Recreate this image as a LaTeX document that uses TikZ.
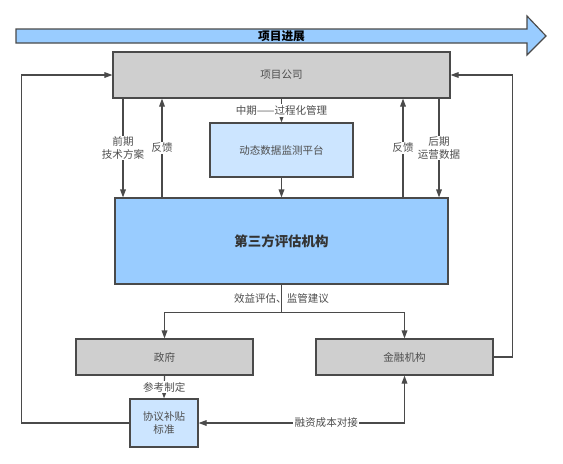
\documentclass[tikz,border=0pt]{standalone}
\usepackage{fontspec}
\setmainfont{Noto Sans CJK SC}
\usetikzlibrary{arrows.meta}

\definecolor{boxgray}{HTML}{CFCFCF}
\definecolor{paleblue}{HTML}{CCE5FF}
\definecolor{midblue}{HTML}{99CCFF}
\definecolor{linegray}{HTML}{4A4A4A}
\definecolor{textgray}{HTML}{4D4D4D}

\tikzset{
  box/.style={draw=linegray, line width=1pt, text=textgray, inner sep=0pt,
    font=\fontsize{9}{11}\selectfont},
  graybox/.style={box, fill=boxgray},
  bluebox/.style={box, fill=paleblue, align=center},
  conn/.style={draw=linegray, line width=1pt, -{Triangle[length=2.4mm,width=1.7mm]}},
  biconn/.style={conn, {Triangle[length=2.4mm,width=1.7mm]}-{Triangle[length=2.4mm,width=1.7mm]}},
  lbl/.style={fill=white, text=textgray, inner sep=1pt, align=center,
    font=\fontsize{9}{10.5}\selectfont}
}

\begin{document}
\begin{tikzpicture}[x=0.03cm, y=-0.03cm]

	\useasboundingbox (0,0) rectangle (563,463);

	% Column positions
	\def\xfront{123}
	\def\xbackl{162}
	\def\xmid{281.5}
	\def\xbackr{403}
	\def\xlate{439}
	\coordinate (cfront) at (\xfront, 0);
	\coordinate (cbackl) at (\xbackl, 0);
	\coordinate (cbackr) at (\xbackr, 0);
	\coordinate (clate) at (\xlate, 0);

	% Progress arrow
	\draw[line width=1pt, draw=linegray, fill=midblue]
	  (16,29) -- (527,29) -- (527,16) -- (546,36) -- (527,55) -- (527,43) -- (16,43) -- cycle;
	\node (stage) at (\xmid, 36.5) {\fontsize{10}{12}\selectfont\bfseries 项目进展};

	% Boxes
	\node[graybox, minimum width=10.11cm, minimum height=1.38cm] (pc) at (\xmid, 75) {项目公司};
	\node[bluebox, minimum width=4.29cm, minimum height=1.62cm] (mon) at (\xmid, 150) {动态数据监测平台};
	\node[box, fill=midblue, text=black!80, minimum width=9.99cm, minimum height=2.58cm,
	  font=\fontsize{11.5}{13}\selectfont\bfseries] (tp) at (\xmid, 241) {第三方评估机构};
	\node[graybox, minimum width=5.31cm, minimum height=1.08cm] (gov) at (164.5, 357) {政府};
	\node[graybox, minimum width=5.31cm, minimum height=1.08cm] (fin) at (404.5, 357) {金融机构};
	\node[bluebox, minimum width=2.04cm, minimum height=1.44cm] (sub) at (164, 423) {协议补贴\\标准};

	% Project company <-> evaluator
	\draw[conn] (pc.south -| cfront) -- (tp.north -| cfront)
	  node[lbl, midway] {前期\\技术方案};
	\draw[conn] (tp.north -| cbackl) -- (pc.south -| cbackl)
	  node[lbl, midway] {反馈};
	\draw[conn] (pc.south) -- (mon.north) node[lbl, midway] {中期——过程化管理};
	\draw[conn] (mon.south) -- (tp.north);
	\draw[conn] (tp.north -| cbackr) -- (pc.south -| cbackr)
	  node[lbl, midway] {反馈};
	\draw[conn] (pc.south -| clate) -- (tp.north -| clate)
	  node[lbl, midway] {后期\\运营数据};

	% Evaluator -> government and finance
	\draw[conn] (tp.south) -- ++(0,28) node[lbl, midway] {效益评估、监管建议} -| (gov.north);
	\draw[conn] (tp.south) -- ++(0,28) -| (fin.north);

	% Lower part
	\draw[conn] (gov.south) -- (sub.north) node[lbl, midway] {参考制定};
	\draw[biconn] (sub.east) -| (fin.south) node[lbl, pos=0.31] {融资成本对接};
	\draw[conn] (fin.east) -- ++(19,0) |- (pc.east);
	\draw[conn] (sub.west) -- ++(-108,0) |- (pc.west);

\end{tikzpicture}
\end{document}
